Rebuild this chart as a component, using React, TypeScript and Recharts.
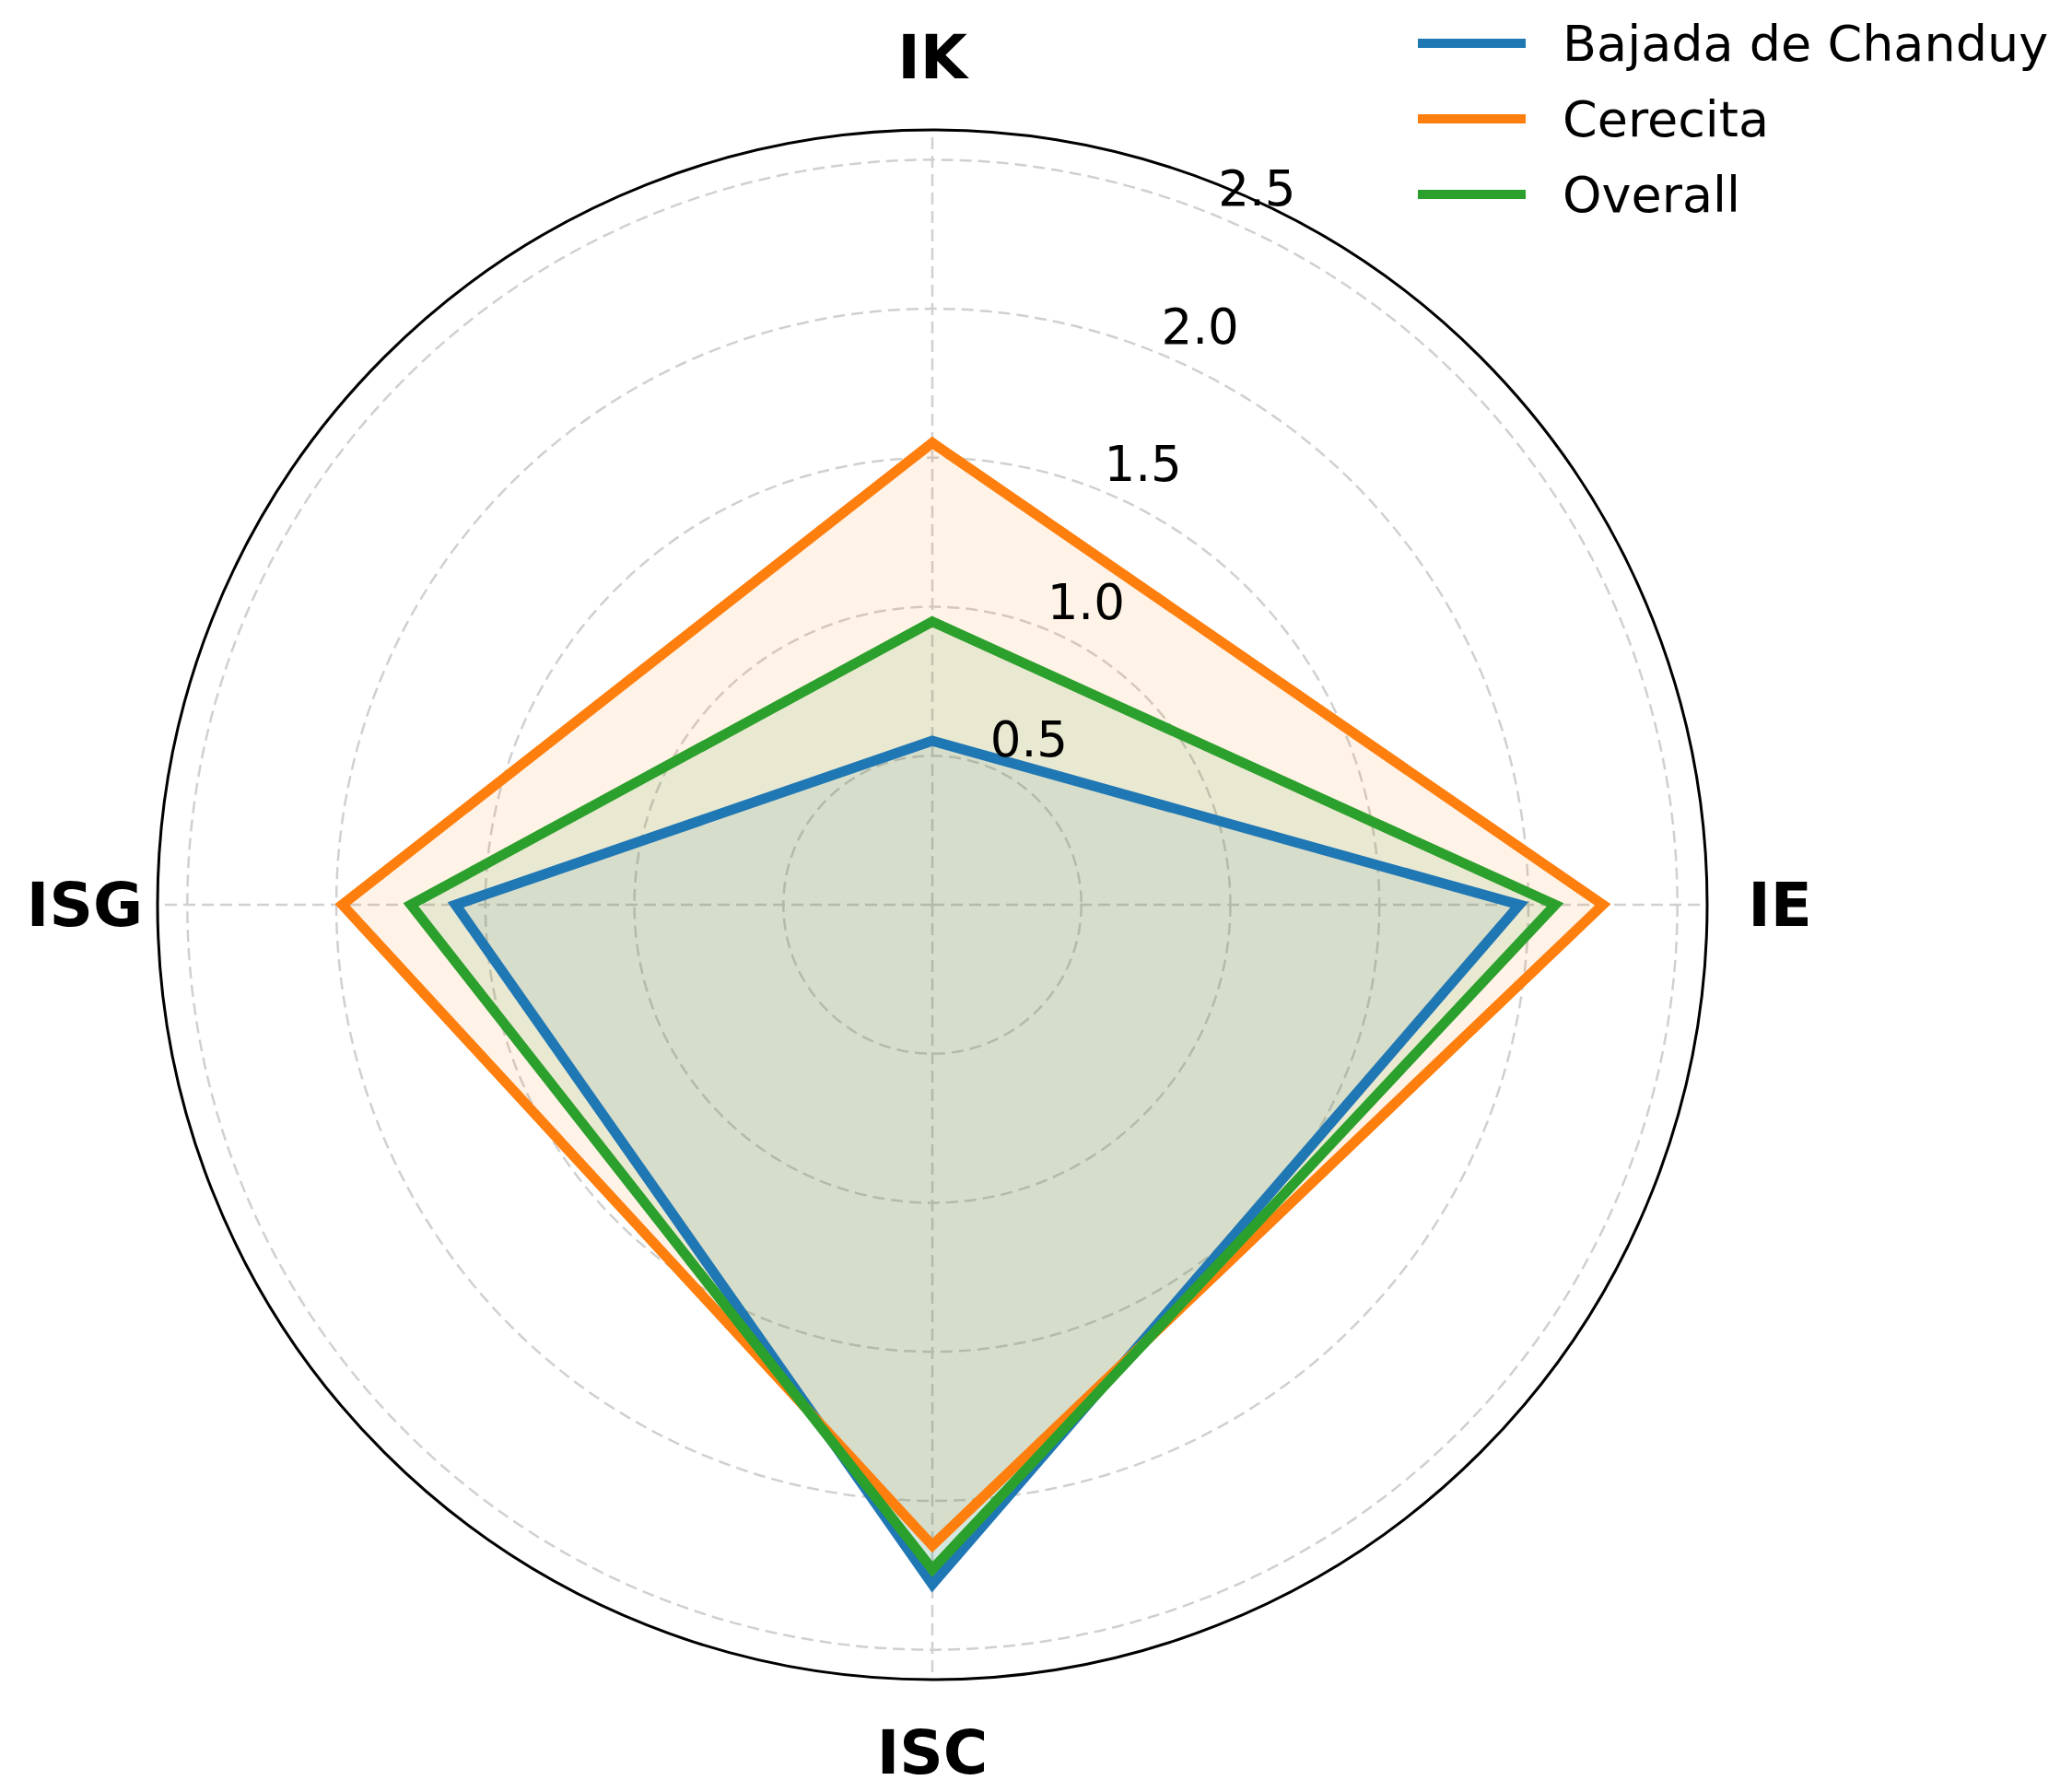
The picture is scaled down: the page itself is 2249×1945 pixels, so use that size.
import { RadarChart, Radar, PolarGrid, PolarAngleAxis, PolarRadiusAxis, Legend } from 'recharts'

const indices = ['IK', 'IE', 'ISC', 'ISG']
const bajada = [0.55, 1.97, 2.28, 1.6]
const cerecita = [1.55, 2.25, 2.15, 1.98]
const overall = [0.95, 2.09, 2.23, 1.75]
const radiusTicks = [0.5, 1.0, 1.5, 2.0, 2.5]
// visible radial limit of the plot, and the domain Recharts settles on for this data
const radiusMax = 2.6
const scaleMax = 3

const series = [
  { key: 'bajada', name: 'Bajada de Chanduy', color: '#1f77b4' },
  { key: 'cerecita', name: 'Cerecita', color: '#ff7f0e' },
  { key: 'overall', name: 'Overall', color: '#2ca02c' },
]

const data = indices.map((idx, i) => ({
  idx,
  bajada: bajada[i],
  cerecita: cerecita[i],
  overall: overall[i],
}))

const W = 2249
const H = 1945
const CX = 1012
const CY = 982
const FRAME_R = 841
const DATA_R = (FRAME_R * scaleMax) / radiusMax

const FONT = '"DejaVu Sans", sans-serif'

function AngleTick(props: any) {
  const { x, y, payload } = props
  return (
    <text x={x} y={y} textAnchor="middle" dominantBaseline="central"
      fontFamily={FONT} fontSize={66} fontWeight="bold" fill="#000">
      {payload.value}
    </text>
  )
}

function RadiusTick(props: any) {
  const { x, y, payload } = props
  return (
    <text x={x + 43} y={y - 30} textAnchor="middle" dominantBaseline="central"
      fontFamily={FONT} fontSize={53} fill="#000">
      {Number(payload.value).toFixed(1)}
    </text>
  )
}

function LegendBox() {
  return (
    <div style={{ fontFamily: FONT, fontSize: 54, color: '#000' }}>
      {series.map((s) => (
        <div key={s.key} style={{ display: 'flex', alignItems: 'center', height: 82 }}>
          <div style={{ width: 117, height: 10, background: s.color, marginRight: 40 }} />
          <span style={{ whiteSpace: 'nowrap' }}>{s.name}</span>
        </div>
      ))}
    </div>
  )
}

const layer = { position: 'absolute' as const, left: 0, top: 0 }

export default function App() {
  return (
    <div style={{ position: 'absolute', left: 0, top: 0, width: W, height: H, background: '#fff' }}>
      {/* frame: outer circle, spokes, category labels */}
      <div style={layer}>
        <RadarChart width={W} height={H} data={data} cx={CX} cy={CY} outerRadius={FRAME_R}
          margin={{ top: 0, right: 0, bottom: 0, left: 0 }}>
          <PolarGrid gridType="circle" polarRadius={[]} stroke="#d0d0d0" strokeWidth={2.5} strokeDasharray="13 7" />
          <PolarAngleAxis dataKey="idx" tick={<AngleTick />} tickSize={79} tickLine={false}
            axisLineType="circle" axisLine={{ stroke: '#000', strokeWidth: 3 }} />
          <Radar dataKey="bajada" stroke="none" fill="none" legendType="none" dot={false} isAnimationActive={false} />
        </RadarChart>
      </div>
      {/* data: rings, radial labels, series, legend */}
      <div style={layer}>
        <RadarChart width={W} height={H} data={data} cx={CX} cy={CY} outerRadius={DATA_R}
          margin={{ top: 0, right: 0, bottom: 0, left: 0 }}>
          <PolarGrid gridType="circle" radialLines={false} stroke="#d0d0d0" strokeWidth={2.5} strokeDasharray="13 7" />
          <PolarAngleAxis dataKey="idx" tick={false} axisLine={false} tickLine={false} />
          <PolarRadiusAxis type="number" angle={67.5} domain={[0, scaleMax]} ticks={radiusTicks}
            tick={<RadiusTick />} axisLine={false} tickLine={false} />
          {/* fills sit under every outline, as in the original */}
          {series.map((s) => (
            <Radar key={s.key + '-fill'} dataKey={s.key} stroke="none" legendType="none"
              fill={s.color} fillOpacity={0.1} dot={false} isAnimationActive={false} />
          ))}
          {series.map((s) => (
            <Radar key={s.key} name={s.name} dataKey={s.key} stroke={s.color} strokeWidth={11}
              fill="none" dot={false} isAnimationActive={false} />
          ))}
          <Legend content={<LegendBox />} wrapperStyle={{ position: 'absolute', left: 1539, top: 6, width: 710 }} />
        </RadarChart>
      </div>
    </div>
  )
}
